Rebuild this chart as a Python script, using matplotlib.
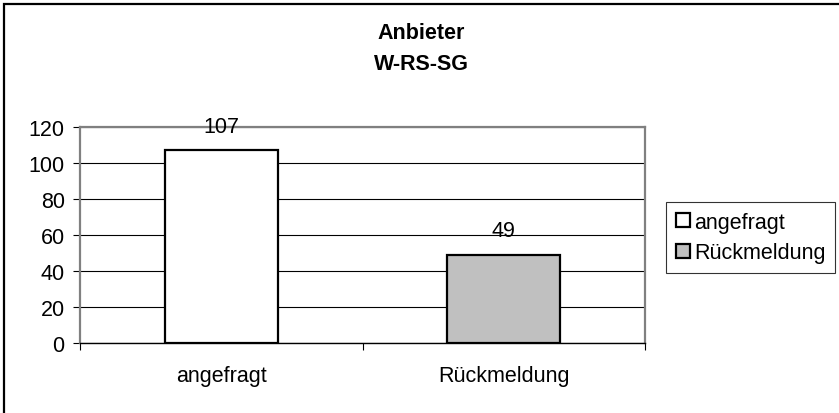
import matplotlib.pyplot as plt
from matplotlib.patches import Rectangle

plt.rcParams["font.family"] = ["Liberation Sans", "DejaVu Sans"]

categories = ["angefragt", "Rückmeldung"]
values = [107, 49]
bar_colors = ["#FFFFFF", "#C0C0C0"]
y_ticks = [0, 20, 40, 60, 80, 100, 120]
title_lines = ["Anbieter", "W-RS-SG"]

FS = 15.5

fig = plt.figure(figsize=(8.39, 4.14), dpi=100)
fig.patches.append(
    Rectangle((4 / 839, -0.05), 1.2, 1.05 - 5 / 414, transform=fig.transFigure,
              fill=False, edgecolor="black", linewidth=1.6, zorder=0)
)

ax = fig.add_axes([80 / 839, 70 / 414, 565 / 839, 216 / 414])
x = list(range(len(categories)))
bars = ax.bar(x, values, width=0.4, color=bar_colors, edgecolor="black",
              linewidth=1.6, zorder=3, label=categories)
for xi, v in zip(x, values):
    ax.annotate(f"{v}", xy=(xi, v), xytext=(0, 13.5), textcoords="offset points",
                ha="center", va="baseline", fontsize=FS, zorder=5)

ax.set_xlim(-0.5, len(categories) - 0.5)
ax.set_ylim(0, 120)
ax.set_yticks(y_ticks)
ax.yaxis.grid(True, color="black", linewidth=0.8, zorder=1)
ax.set_axisbelow(True)
ax.set_xticks(x)
ax.set_xticklabels(categories, fontsize=FS)
ax.set_xticks([i - 0.5 for i in range(len(categories) + 1)], minor=True)
ax.tick_params(axis="x", which="major", length=0, pad=16)
ax.tick_params(axis="x", which="minor", length=5, width=0.8, direction="out")
ax.tick_params(axis="y", length=5, width=0.8, labelsize=FS, pad=6)

for side in ["top", "right", "left"]:
    ax.spines[side].set_color("#808080")
    ax.spines[side].set_linewidth(1.6)
ax.spines["bottom"].set_color("black")
ax.spines["bottom"].set_linewidth(1.0)

for line, base_y in zip(title_lines, [39, 70]):
    fig.text(421 / 839, 1 - base_y / 414, line, ha="center", va="baseline",
             fontsize=FS, fontweight="bold")

leg = fig.legend(handles=list(bars), labels=categories, loc="upper left",
                 bbox_to_anchor=(666 / 839, 1 - 203 / 414), fontsize=FS,
                 frameon=True, fancybox=False, handlelength=0.65, handleheight=0.65,
                 handletextpad=0.2, borderpad=0.45, labelspacing=0.45,
                 borderaxespad=0)
leg.get_frame().set_edgecolor("black")
leg.get_frame().set_linewidth(0.8)

fig.savefig("out.png", dpi=100)
